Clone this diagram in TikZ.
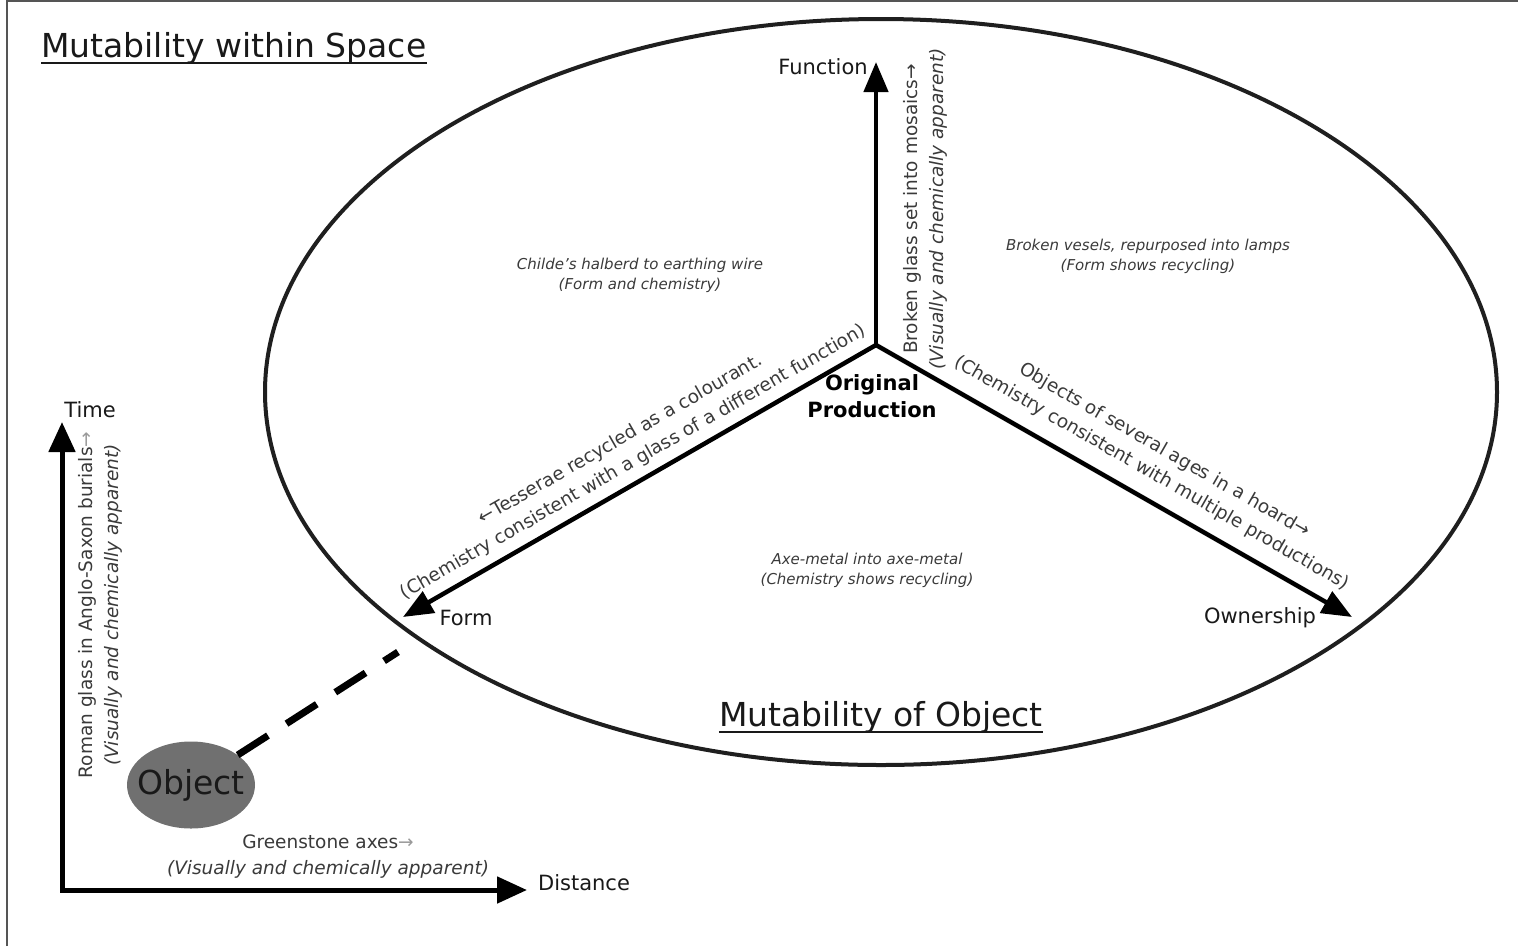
\documentclass[tikz,border=0pt]{standalone}
\usepackage{fontspec}
\setmainfont{DejaVu Sans}
\usetikzlibrary{arrows.meta,shapes.geometric}
\definecolor{annot}{HTML}{3A3A3A}
\definecolor{lightarr}{HTML}{9A9A9A}
\definecolor{framegray}{HTML}{555555}
\begin{document}
\begin{tikzpicture}[x=1pt,y=-1pt,
  mainarrow/.style={line width=4.5pt, black, -{Triangle[length=30pt 0 0,width=24pt 0 0]}},
  axisline/.style={line width=5pt, black, line join=miter, {Triangle[length=30pt 0 0,width=26pt 0 0]}-{Triangle[length=30pt 0 0,width=26pt 0 0]}},
  lbl/.style={font=\fontsize{21}{25}\selectfont, text=black!90, inner sep=0pt},
  note/.style={font=\fontsize{15}{20}\selectfont\itshape, text=annot, align=center, inner sep=0pt},
  ann/.style={font=\fontsize{18.5}{26}\selectfont, text=annot, align=center, inner sep=0pt},
  titletext/.style={font=\fontsize{33}{38}\selectfont, text=black!90, inner sep=0pt},
]
\useasboundingbox (0,0) rectangle (1518,946);
% frame edges
\draw[framegray, line width=2pt] (7,946) -- (7,1) -- (1518,1);

% big ellipse
\draw[line width=4pt, black!88] (881,392) ellipse [x radius=616, y radius=373];

% centre and arrow tips
\coordinate (O) at (876,345);
\coordinate (fn) at (876,62);
\coordinate (fo) at (403,617);
\coordinate (ow) at (1352,617);
\draw[mainarrow] (O) -- (fn);
\draw[mainarrow] (O) -- (fo);
\draw[mainarrow] (O) -- (ow);

% axis labels
\node[lbl] (lfn) at (823,67) {Function};
\node[lbl] (lfo) at (466,618) {Form};
\node[lbl] (low) at (1260,618) {Ownership};
\node[font=\fontsize{21}{27}\selectfont\bfseries, align=center, inner sep=0pt] (orig) at (872,396) {Original\\Production};

% notes in the sectors
\node[note] (n1) at (640,275) {Childe's halberd to earthing wire\\(Form and chemistry)};
\node[note] (n2) at (1148,256) {Broken vesels, repurposed into lamps\\(Form shows recycling)};
\node[note] (n3) at (867,570) {Axe-metal into axe-metal\\(Chemistry shows recycling)};

% labels along arrows
\node[ann, rotate=90] (afn) at (925,209) {Broken glass set into mosaics→\\\textit{(Visually and chemically apparent)}};
\node[ann, rotate=29.8] (afo) at (627,451) {←Tesserae recycled as a colourant.\\(Chemistry consistent with a glass of a different function)};
\node[ann, rotate=-29.8] (aow) at (1158,462) {Objects of several ages in a hoard→\\(Chemistry consistent with multiple productions)};

% titles
\node[titletext, anchor=base west] (t1) at (41,57) {Mutability within Space};
\draw[line width=1.6pt, black!90] ([yshift=-6pt]t1.base west) -- ([yshift=-6pt]t1.base east);
\node[titletext, anchor=base] (t2) at (881,726) {Mutability of Object};
\draw[line width=1.6pt, black!90] ([yshift=-6pt]t2.base west) -- ([yshift=-6pt]t2.base east);

% time / distance axes
\coordinate (corner) at (62,890);
\coordinate (tt) at (62,422);
\coordinate (dt) at (527,890);
\draw[axisline] (tt) -- (corner) -- (dt);
\node[lbl] (ltime) at (90,410) {Time};
\node[lbl] (ldist) at (584,883) {Distance};
\node[ann, rotate=90] (atime) at (100,605) {Roman glass in Anglo-Saxon burials\textcolor{lightarr}{→}\\\textit{(Visually and chemically apparent)}};
\node[ann] (adist) at (328,857) {Greenstone axes\textcolor{lightarr}{→}\\\textit{(Visually and chemically apparent)}};

% object
\node[ellipse, fill=black!56, minimum width=128pt, minimum height=87pt, inner sep=0pt] (obj) at (191,785) {};
\node[font=\fontsize{33}{38}\selectfont, text=black!90, inner sep=0pt] (objtext) at (obj.center) {Object};
\coordinate (dend) at (398,652);
\draw[line width=7pt, dash pattern=on 36pt off 22pt] (obj) -- (dend);
\end{tikzpicture}
\end{document}
